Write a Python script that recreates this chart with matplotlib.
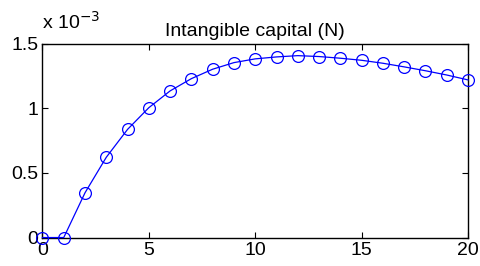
import matplotlib
matplotlib.use("Agg")
import matplotlib.pyplot as plt

plt.rcParams['font.family'] = ['Liberation Sans', 'DejaVu Sans']

periods = list(range(21))
values = [0.0, 0.0, 0.347, 0.622, 0.838, 1.006, 1.136, 1.231, 1.304, 1.355,
          1.384, 1.399, 1.409, 1.402, 1.389, 1.373, 1.350, 1.322, 1.292, 1.259, 1.221]
xticks = [0, 5, 10, 15, 20]
yticks = [0, 0.5, 1.0, 1.5]
ytick_labels = ['0', '0.5', '1', '1.5']
title = 'Intangible capital (N)'

fig = plt.figure(figsize=(4.8, 2.66), dpi=100)
ax = fig.add_axes([0.0885, 0.107, 0.8865, 0.728])
ax.plot(periods, values, color='#0000ff', lw=0.9, marker='o', markersize=8.5,
        markerfacecolor='none', markeredgecolor='#0000ff', markeredgewidth=0.9,
        clip_on=False, zorder=3)
ax.set_xlim(0, 20)
ax.set_ylim(0, 1.5)
ax.set_xticks(xticks)
ax.set_xticklabels([str(t) for t in xticks])
ax.set_yticks(yticks)
ax.set_yticklabels(ytick_labels)
ax.tick_params(direction='in', length=4, width=0.8, labelsize=14, top=True, right=True,
               labeltop=False, labelright=False, pad=3)
for s in ax.spines.values():
    s.set_linewidth(1.0)
ax.set_title(title, fontsize=14, pad=6)
fig.text(0.088, 0.875, r'x 10$^{-3}$', fontsize=14, ha='left', va='bottom')
fig.savefig('out.png', dpi=100)
